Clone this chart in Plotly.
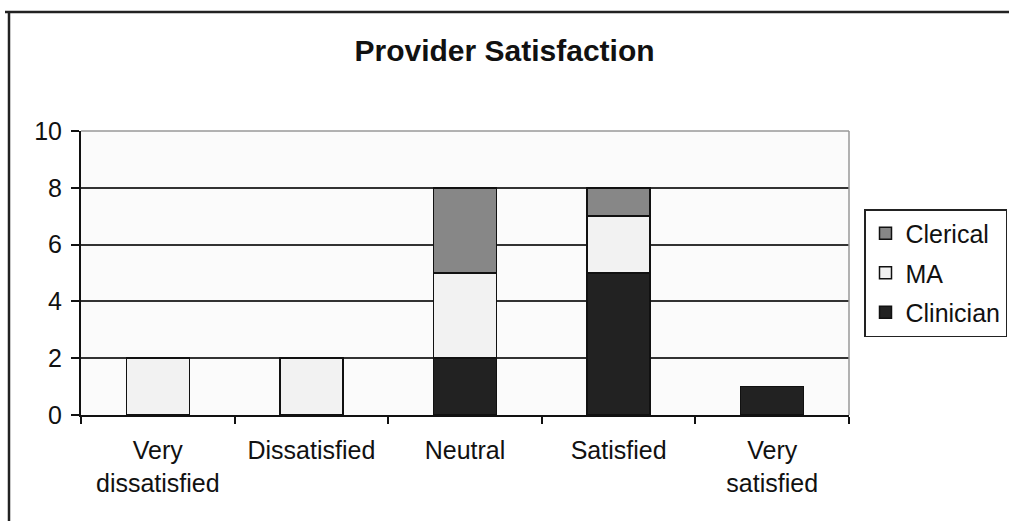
import plotly.graph_objects as go

categories = ["Very<br>dissatisfied", "Dissatisfied", "Neutral", "Satisfied", "Very<br>satisfied"]
clinician = [0, 0, 2, 5, 1]
ma = [2, 2, 3, 2, 0]
clerical = [0, 0, 3, 1, 0]

series = [
    ("Clinician", clinician, "#222222", 3),
    ("MA", ma, "#f2f2f2", 2),
    ("Clerical", clerical, "#878787", 1),
]

FONT = "Liberation Sans, Arial, sans-serif"

fig = go.Figure()
for name, vals, color, rank in series:
    fig.add_trace(go.Bar(
        x=categories, y=[v if v else None for v in vals], name=name, width=0.41,
        marker=dict(color=color, line=dict(color="#111111", width=1.5)),
        legendgroup=name, legendrank=rank,
    ))

W, H = 1009, 521
L, R, T, B = 81, 160, 131, 106
pw, ph = W - L - R, H - T - B

def px_x(x):
    return (x - L) / pw

def px_y(y):
    return (H - B - y) / ph

fig.update_layout(
    width=W, height=H,
    barmode="stack",
    margin=dict(l=L, r=R, t=T, b=B, autoexpand=False),
    paper_bgcolor="white",
    plot_bgcolor="#fbfbfb",
    font=dict(family=FONT, size=25, color="#111111"),
    title=dict(text="<b>Provider Satisfaction</b>", x=0.5, xref="container",
               y=1 - 50 / H, yanchor="middle", yref="container",
               font=dict(size=30, family=FONT, color="#111111")),
    legend=dict(
        x=px_x(864), y=px_y(209), xanchor="left", yanchor="top",
        traceorder="grouped", tracegroupgap=4, itemwidth=30,
        bordercolor="#222222", borderwidth=1.5, bgcolor="white",
        font=dict(size=25, family=FONT, color="#111111"),
    ),
    xaxis=dict(
        showline=True, linecolor="#111111", linewidth=2,
        ticks="outside", tickson="boundaries", ticklen=7, tickcolor="#111111", tickwidth=1.5,
        showgrid=False, tickfont=dict(size=25, family=FONT), ticklabelstandoff=12,
    ),
    yaxis=dict(
        range=[0, 10], dtick=2, showline=True, linecolor="#111111", linewidth=2,
        ticks="outside", ticklen=8, tickcolor="#111111", tickwidth=1.5,
        showgrid=True, gridcolor="#333333", gridwidth=1.5, zeroline=False,
        tickfont=dict(size=25, family=FONT), ticklabelstandoff=4,
    ),
    shapes=[
        dict(type="line", xref="paper", yref="paper", x0=0, x1=1, y0=1, y1=1,
             line=dict(color="#999999", width=1.5), layer="above"),
        dict(type="line", xref="paper", yref="paper", x0=1, x1=1, y0=0, y1=1,
             line=dict(color="#999999", width=1.5), layer="above"),
        dict(type="line", xref="paper", yref="paper", x0=px_x(5), x1=px_x(1009),
             y0=px_y(12), y1=px_y(12), line=dict(color="#222222", width=2.5)),
        dict(type="line", xref="paper", yref="paper", x0=px_x(9), x1=px_x(9),
             y0=px_y(12), y1=px_y(521), line=dict(color="#222222", width=2.5)),
    ],
)

fig.write_html("out.html", config={"displayModeBar": False},
               post_script="document.body.style.margin='0';")
